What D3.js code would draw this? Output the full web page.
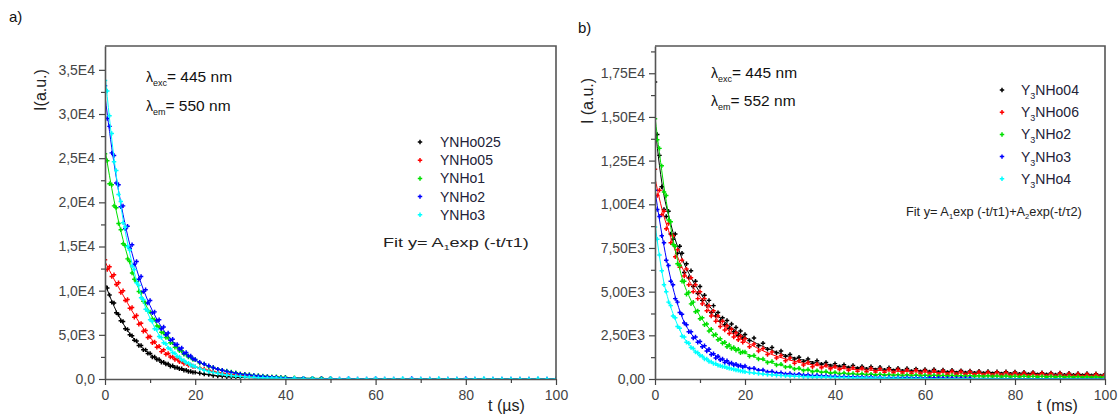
<!DOCTYPE html>
<html>
<head>
<meta charset="utf-8">
<script src="https://cdn.jsdelivr.net/npm/d3@7"></script>
<style>
  body { margin: 0; background: #fff; }
  text { font-family: "Liberation Sans", Arial, sans-serif; }
</style>
</head>
<body>
<script>
// ---- panel a) : time in microseconds ----
const timeA = d3.range(0, 20, 0.5).concat(d3.range(20, 40, 1), d3.range(40, 101, 2));
const namesA = ["YNHo025", "YNHo05", "YNHo1", "YNHo2", "YNHo3"];
const colorsA = ["#000000", "#ff0000", "#00e000", "#0000ff", "#00ffff"];

const ynho025 = [10500,10300,9500,8700,8600,7500,7300,6600,6500,5700,
  5600,5000,4900,4400,4300,3800,3800,3300,3300,2900,
  2900,2500,2500,2200,2200,1900,1900,1700,1700,1450,
  1500,1300,1300,1150,1150,1000,1000,850,850,750,
  750,650,550,500,400,350,300,250,250,200,
  200];
const ynho05 = [13500,12400,12700,11600,11800,10700,10900,9800,10000,8900,
  9000,8000,8100,7000,7200,6200,6300,5400,5500,4700,
  4800,4100,4200,3600,3700,3100,3300,2800,2900,2500,
  2500,2200,2300,1950,2000,1750,1800,1550,1600,1400,
  1400,1250,1100,1000,850,750,650,550,500,450,
  400,350,300,250,250,200,200,150,150,100,
  100,100,50,50,50,0];
const ynho1 = [25500,24700,22100,22000,19600,19400,17600,16900,15300,15100,
  13600,13300,12000,11300,11000,9900,9800,8800,8600,7700,
  7600,6800,6700,6000,5900,5300,5200,4700,4700,4100,
  4100,3600,3600,3200,3200,2800,2800,2500,2500,2200,
  2200,1800,1700,1400,1300,1100,1000,900,800,700,
  600,550,500,400,400,350,300,250,250,200,
  200,150,100,100,100,50];
const ynho2 = [33200,29500,28600,25600,25300,22200,22000,19500,19600,17000,
  17300,14800,15200,13000,13300,11300,11600,9900,10100,8600,
  8900,7500,7600,6600,6700,5700,5900,5000,5200,4400,
  4500,3900,3900,3400,3500,2900,3000,2600,2600,2300,
  2200,1900,1700,1500,1300,1100,1000,850,750,650,
  550,500,450,400,350,300,250,200,200,150,
  150,100,100,50,50,50,0,50,0,0,
  50,0,0,0,50,0,0,0,0,0,
  50,0,0,0,0,0,0,0,0,0,
  0];
const ynho3 = [33800,32600,29800,27800,24600,23600,20900,20100,17700,17200,
  15000,14600,12800,12400,10900,10600,9200,9000,7900,7700,
  6700,6500,5700,5600,4800,4700,4100,4000,3500,3400,
  3000,2900,2550,2500,2150,2100,1850,1800,1550,1500,
  1400,1200,1000,850,750,650,550,450,400,350,
  300,250,200,200,150,150,100,100,100,50,
  50,100,50,50,0,50,0,50,0,0,
  50,0,0,50,0,0,0,50,0,0,
  0,0,50,0,0,0,0,0,50,0,
  0];

// fitted curves (single exponential)
const fitTimeA = [0, 2, 4, 6, 8, 10, 12, 15, 18, 21, 25, 30, 35, 40, 50, 60, 80, 100];
const fitA = [
  [10800, 8240, 6290, 4800, 3670, 2800, 2140, 1420, 950, 630, 370, 190, 100, 50, 10, 0, 0, 0],
  [13300, 11300, 9500, 7700, 6100, 4700, 3600, 2450, 1700, 1200, 750, 400, 200, 100, 20, 0, 0, 0],
  [26000, 20250, 15770, 12280, 9570, 7450, 5800, 3990, 2740, 1880, 1140, 610, 330, 180, 50, 10, 0, 0],
  [32000, 24420, 18640, 14230, 10860, 8290, 6330, 4220, 2810, 1880, 1090, 560, 280, 140, 40, 10, 0, 0],
  [34500, 24990, 18100, 13100, 9490, 6870, 4980, 3070, 1890, 1170, 610, 270, 120, 50, 10, 0, 0, 0]
];
const yTicksA = [0, 5000, 10000, 15000, 20000, 25000, 30000, 35000];
const yLabelsA = ["0,0", "5,0E3", "1,0E4", "1,5E4", "2,0E4", "2,5E4", "3,0E4", "3,5E4"];

// ---- panel b) : time in milliseconds ----
const timeB = d3.range(0, 20, 0.5).concat(d3.range(20, 101, 1));
const namesB = ["04", "06", "2", "3", "4"];
const colorsB = ["#000000", "#ff0000", "#00e000", "#0000ff", "#00ffff"];

const y3nho04 = [17000,14000,12800,11000,9700,9300,9600,8300,8000,8300,
  7200,7600,7200,6100,6600,5800,6200,5300,5600,4900,
  5300,4500,4800,4200,4500,3800,4200,3600,3800,3300,
  3500,3100,3350,2900,3150,2700,2950,2500,2750,2350,
  2550,2200,2350,1900,2050,1700,1800,1500,1600,1300,
  1400,1150,1250,1000,1150,900,1050,850,950,750,
  880,700,820,650,780,600,720,560,700,520,
  680,500,650,480,620,450,600,430,580,420,
  550,400,540,380,520,370,500,350,480,340,
  460,330,450,320,430,300,420,290,410,280,
  400,270,390,260,380,250,360,240,350,230,
  340,220,330,210,320,200,310,190,300,180,
  290];
const y3nho06 = [12000,10500,10800,9400,9600,8600,8900,7800,8200,7000,
  7400,6400,6800,5900,6300,5400,5800,5000,5400,4600,
  5000,4300,4600,3900,4200,3600,3900,3300,3600,3000,
  3300,2800,3050,2600,2850,2400,2650,2250,2450,2100,
  2300,1850,2000,1600,1750,1400,1550,1200,1350,1050,
  1200,900,1050,800,950,700,850,650,780,580,
  720,550,680,500,650,450,620,420,600,400,
  580,380,560,360,540,340,520,320,500,300,
  480,290,470,280,460,270,440,260,430,250,
  410,240,400,230,390,220,380,210,370,200,
  360,190,350,180,340,170,330,160,320,150,
  310,150,300,140,290,130,280,120,270,110,
  260];
const y3nho2 = [14900,13700,13200,12200,10700,10500,9100,9000,7700,7600,
  6600,6500,5600,5600,4850,4950,4300,4400,3850,3900,
  3450,3500,3100,3150,2750,2850,2500,2550,2250,2300,
  2050,2100,1850,1950,1750,1800,1650,1700,1500,1550,
  1550,1300,1350,1150,1150,950,1000,800,850,680,
  720,570,620,480,540,420,480,380,430,330,
  380,300,350,280,320,250,300,240,280,220,
  270,210,260,200,250,190,240,180,230,170,
  220,160,210,160,200,150,200,150,190,140,
  190,140,180,130,180,130,170,120,170,120,
  160,110,160,110,150,100,150,100,140,100,
  140,90,130,90,130,80,120,80,120,70,
  110];
const y3nho3 = [10800,9700,9300,8200,7800,6800,6500,5600,5400,4600,
  4400,3800,3700,3200,3100,2700,2700,2350,2400,2100,
  2150,1850,1900,1600,1700,1400,1450,1200,1300,1100,
  1150,950,1050,880,920,800,850,740,780,680,
  740,600,620,500,520,400,430,340,360,290,
  310,250,280,220,240,190,210,170,190,150,
  160,130,150,110,130,100,120,90,110,80,
  100,70,90,60,80,60,80,50,70,50,
  60,40,60,40,50,30,50,30,40,30,
  40];
const y3nho4 = [8700,8000,7100,6200,5400,5000,4400,4200,3600,3500,
  3000,2900,2450,2400,2100,2050,1800,1750,1550,1500,
  1350,1300,1150,1150,1000,980,880,870,780,760,
  720,700,640,620,580,560,510,500,460,440,
  420,370,350,310,290,250,240,210,200,180,
  170,150,150,130,130,110,110,100,100,90,
  90,80,80,70,70,60,60,50,50,40,
  40,40,30,30,30,20,20,20,10,10,
  10];

// fitted curves (double exponential)
const fitTimeB = [0, 1, 2, 3, 4, 5, 6, 8, 10, 12, 14, 16, 18, 20, 25, 30, 35, 40, 50, 60, 70, 80, 90, 100];
const fitB = [
  [14500, 12200, 10500, 9400, 8400, 7600, 6900, 5800, 4950, 4200, 3600, 3150, 2750, 2400, 1750, 1280, 980, 780, 580, 470, 400, 340, 280, 230],
  [11500, 10300, 9300, 8500, 7700, 7000, 6400, 5450, 4700, 3950, 3350, 2850, 2450, 2150, 1500, 1080, 810, 640, 480, 390, 320, 270, 220, 180],
  [15000, 12900, 11000, 9400, 8000, 6800, 5800, 4500, 3600, 2900, 2350, 1950, 1700, 1480, 1000, 660, 460, 340, 250, 210, 180, 160, 140, 120],
  [10800, 9100, 7600, 6300, 5200, 4300, 3550, 2600, 2050, 1600, 1250, 1000, 820, 690, 430, 290, 210, 150, 90, 60, 40, 30, 20, 10],
  [8900, 7000, 5500, 4500, 3750, 3100, 2550, 1850, 1380, 1040, 820, 660, 520, 410, 260, 170, 120, 90, 50, 30, 20, 10, 10, 0]
];
const yTicksB = [0, 2500, 5000, 7500, 10000, 12500, 15000, 17500];
const yLabelsB = ["0,00", "2,50E3", "5,00E3", "7,50E3", "1,00E4", "1,25E4", "1,50E4", "1,75E4"];

const xTicks = [0, 20, 40, 60, 80, 100];
const xMinor = [10, 30, 50, 70, 90];

const svg = d3.select("body").append("svg")
    .attr("width", 1119)
    .attr("height", 419);

const cross = d3.symbol().type(d3.symbolCross).size(11);

const drawPanel = (p) => {
    const x = d3.scaleLinear().domain([0, 100]).range([p.left, p.right]);
    const y = d3.scaleLinear().domain([0, p.yMax]).range([p.bottom, p.top]);
    const g = svg.append("g");

    g.append("clipPath").attr("id", p.id)
        .append("rect")
        .attr("x", p.left).attr("y", p.top)
        .attr("width", p.right - p.left).attr("height", p.bottom - p.top);

    // data points + fit lines
    const plot = g.append("g").attr("clip-path", "url(#" + p.id + ")");
    const line = d3.line()
        .x((d) => x(d[0]))
        .y((d) => y(d[1]))
        .curve(d3.curveMonotoneX);
    p.series.forEach((vals, k) => {
        plot.append("g").selectAll("path")
            .data(vals.map((v, i) => [p.time[i], v]))
            .enter()
            .append("path")
            .attr("d", cross)
            .attr("transform", (d) => "translate(" + x(d[0]) + "," + y(d[1]) + ")")
            .attr("fill", p.colors[k]);
        plot.append("path")
            .datum(p.fitTime.map((t, i) => [t, p.fits[k][i]]))
            .attr("d", line)
            .attr("fill", "none")
            .attr("stroke", p.colors[k])
            .attr("stroke-width", 1);
    });

    // axes
    const xAxis = g.append("g")
        .attr("transform", "translate(0," + p.bottom + ")")
        .call(d3.axisBottom(x).tickValues(xTicks).tickSize(6).tickSizeOuter(0).tickPadding(5));
    g.append("g")
        .attr("transform", "translate(0," + p.bottom + ")")
        .call(d3.axisBottom(x).tickValues(xMinor).tickSize(4).tickFormat(""))
        .select(".domain").remove();
    const yAxis = g.append("g")
        .attr("transform", "translate(" + p.left + ",0)")
        .call(d3.axisLeft(y).tickValues(p.yTicks).tickSize(6).tickSizeOuter(0).tickPadding(4)
            .tickFormat((d, i) => p.yLabels[i]));
    g.append("g")
        .attr("transform", "translate(" + p.left + ",0)")
        .call(d3.axisLeft(y).tickValues(p.yMinor).tickSize(4).tickFormat(""))
        .select(".domain").remove();
    g.selectAll(".tick line").attr("stroke", "#444").attr("stroke-width", 1.2);
    [xAxis, yAxis].forEach((a) => {
        a.select(".domain").attr("stroke", "#555").attr("stroke-width", 1.6);
        a.selectAll(".tick text")
            .style("font-family", "Liberation Sans, Arial, sans-serif")
            .style("font-size", "14px")
            .attr("fill", "#444");
    });

    // frame top / right
    g.append("path")
        .attr("d", "M" + p.left + "," + p.top + "H" + p.right + "V" + p.bottom)
        .attr("fill", "none")
        .attr("stroke", "#555")
        .attr("stroke-width", 1.6);

    // titles
    g.append("text")
        .attr("x", p.xTitle[0]).attr("y", p.xTitle[1])
        .style("font-size", "16px").attr("fill", "#222")
        .text(p.xTitleText);
    g.append("text")
        .attr("transform", "translate(" + p.yTitle[0] + "," + p.yTitle[1] + ") rotate(-90)")
        .attr("text-anchor", "middle")
        .style("font-size", "16px").attr("fill", "#222")
        .text(p.yTitleText);
    g.append("text")
        .attr("x", p.tag[0]).attr("y", p.tag[1])
        .style("font-size", "15px").attr("fill", "#111")
        .text(p.tagText);

    // lambda annotations
    p.lambda.forEach((row) => {
        const t = g.append("text")
            .attr("x", row.x).attr("y", row.y)
            .style("font-size", "15.5px").attr("fill", "#111");
        t.append("tspan").style("font-size", "14px").text("λ");
        t.append("tspan").attr("dy", 4).style("font-size", "9px").text(row.sub);
        t.append("tspan").attr("dy", -4).text("= " + row.val);
    });

    // legend
    p.names.forEach((n, k) => {
        const ly = p.legend.y + k * p.legend.step;
        g.append("path")
            .attr("d", cross)
            .attr("transform", "translate(" + p.legend.x + "," + (ly - 5) + ")")
            .attr("fill", p.colors[k]);
        const t = g.append("text")
            .attr("x", p.legend.x + p.legend.gap).attr("y", ly)
            .style("font-size", "14px").attr("fill", "#222238");
        if (p.sub3) {
            t.append("tspan").text("Y");
            t.append("tspan").attr("dy", 4).style("font-size", "9px").text("3");
            t.append("tspan").attr("dy", -4).text("NHo" + n);
        } else {
            t.text(n);
        }
    });

    // fit formula, stretched horizontally to the width it has in the picture
    const f = g.append("text")
        .attr("x", 0).attr("y", 0)
        .style("font-size", p.fit.size).attr("fill", "#222");
    p.fit.parts.forEach((s, i) => {
        if (i % 2 === 0) {
            f.append("tspan").attr("dy", i === 0 ? 0 : -3).text(s);
        } else {
            f.append("tspan").attr("dy", 3).style("font-size", "8px").text(s);
        }
    });
    const natural = f.node().getBBox().width;
    f.attr("transform", "translate(" + p.fit.x + "," + p.fit.y + ") scale(" + (p.fit.len / natural) + ",1)");
};

drawPanel({
    id: "clipA", left: 105, right: 556, top: 46, bottom: 379, yMax: 37700,
    time: timeA, series: [ynho025, ynho05, ynho1, ynho2, ynho3],
    fitTime: fitTimeA, fits: fitA, colors: colorsA, names: namesA, sub3: false,
    yTicks: yTicksA, yLabels: yLabelsA,
    yMinor: [2500, 7500, 12500, 17500, 22500, 27500, 32500],
    xTitle: [488, 411], xTitleText: "t (µs)",
    yTitle: [46, 90], yTitleText: "I(a.u.)",
    tag: [9, 22], tagText: "a)",
    lambda: [{x: 146, y: 82, sub: "exc", val: "445 nm"}, {x: 146, y: 111, sub: "em", val: "550 nm"}],
    legend: {x: 420, y: 147, step: 18.2, gap: 20},
    fit: {x: 383, y: 247, size: "13.5px", len: 146, parts: ["Fit y= A", "1", "exp (-t/τ1)"]}
});

drawPanel({
    id: "clipB", left: 655, right: 1105, top: 46, bottom: 379, yMax: 19060,
    time: timeB, series: [y3nho04, y3nho06, y3nho2, y3nho3, y3nho4],
    fitTime: fitTimeB, fits: fitB, colors: colorsB, names: namesB, sub3: true,
    yTicks: yTicksB, yLabels: yLabelsB,
    yMinor: [1250, 3750, 6250, 8750, 11250, 13750, 16250, 18750],
    xTitle: [1037, 411], xTitleText: "t (ms)",
    yTitle: [593, 101], yTitleText: "I (a.u.)",
    tag: [578, 33], tagText: "b)",
    lambda: [{x: 711, y: 78, sub: "exc", val: "445 nm"}, {x: 711, y: 106, sub: "em", val: "552 nm"}],
    legend: {x: 1002, y: 95, step: 22.2, gap: 19},
    fit: {x: 906, y: 216, size: "13.5px", len: 176, parts: ["Fit y= A", "1", "exp (-t/τ1)+A", "2", "exp(-t/τ2)"]}
});
</script>
</body>
</html>
